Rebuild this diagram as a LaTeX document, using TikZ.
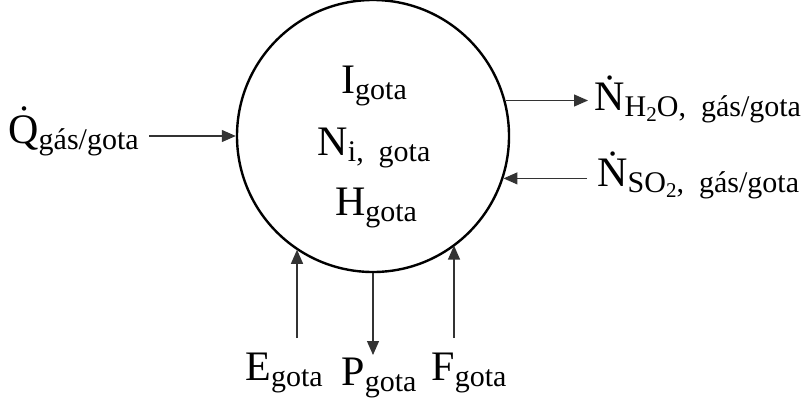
\documentclass[tikz,border=0pt]{standalone}
\usepackage{fontspec}
\setmainfont{Liberation Serif}
\usetikzlibrary{arrows.meta,positioning,calc}
% subscripts as large as the reference prints them
\newcommand{\sbs}[1]{\raisebox{-3pt}{\fontsize{15}{18}\selectfont #1}}
\newcommand{\sbsb}[1]{\raisebox{-2.5pt}{\fontsize{10.5}{12}\selectfont #1}}

\begin{document}
\begin{tikzpicture}[
    x=0.5pt, y=-0.5pt,
    drop/.style={draw, circle, line width=1.2pt, minimum size=136pt, inner sep=0pt},
    lbl/.style={font=\fontsize{21}{25}\selectfont, inner sep=0pt},
    flow/.style={-{Triangle[length=7pt,width=6pt]}, line width=0.6pt, draw=black!80}
]
\useasboundingbox (0,0) rectangle (806,402);
\node[drop] (gota) at (373,136) {};
\node[lbl, anchor=base] (ig) at (374,93) {I\sbs{gota}};
\node[lbl, anchor=base] (ng) at (374,155) {N\sbs{i,\ \ gota}};
\node[lbl, anchor=base] (hg) at (376,215) {H\sbs{gota}};

\node[lbl, anchor=base west] (qg) at (8,143) {Q̇\sbs{gás/gota}};
\node[lbl, anchor=base west] (nh) at (594,110) {Ṅ\sbs{H\sbsb{2}O,\ \ gás/gota}};
\node[lbl, anchor=base west] (ns) at (597,186) {Ṅ\sbs{SO\sbsb{2},\ \ gás/gota}};

\node[lbl, anchor=base] (eg) at (284,380) {E\sbs{gota}};
\node[lbl, anchor=base] (pg) at (379,385) {P\sbs{gota}};
\node[lbl, anchor=base] (fg) at (469,380) {F\sbs{gota}};

\coordinate (e0) at (297,338);
\coordinate (p0) at (373,355);
\coordinate (f0) at (454,338);

\draw[flow, shorten <=5pt] (qg.east |- gota.west) -- (gota.west);
\draw[flow, shorten >=3pt] (gota.15) -- (gota.15 -| nh.west);
\draw[flow, shorten <=5pt] (gota.-18 -| ns.west) -- (gota.-18);
\draw[flow] (e0) -- (e0 |- gota.-124);
\draw[flow] (gota.south) -- (p0);
\draw[flow] (f0) -- (f0 |- gota.-53);
\end{tikzpicture}
\end{document}
